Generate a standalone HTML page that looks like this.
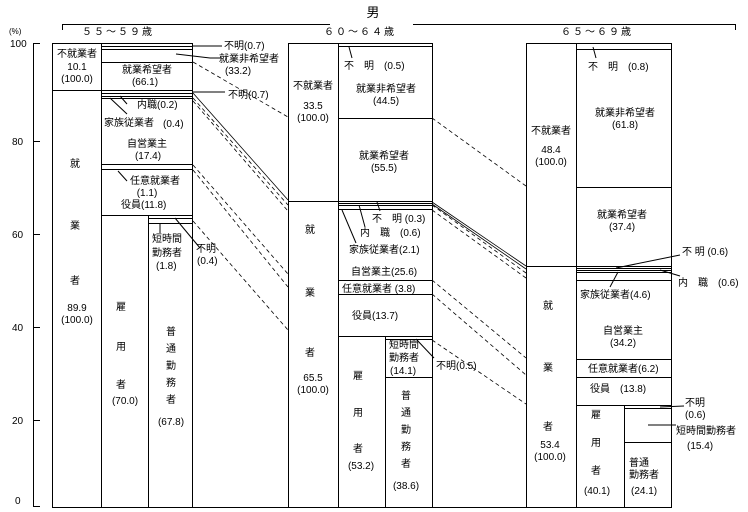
<!DOCTYPE html>
<html><head><meta charset="utf-8"><style>
html,body{margin:0;padding:0;background:#fff}
svg{display:block}
text{font-family:"Liberation Sans","Noto Sans CJK JP",sans-serif;font-size:10px;fill:#000}
.c{text-anchor:middle}
</style></head><body>
<svg width="748" height="512" viewBox="0 0 748 512" xmlns="http://www.w3.org/2000/svg">
<g stroke="#000" stroke-width="1" fill="none">
<polyline points="62.5,30 62.5,24.5 330,24.5"/>
<polyline points="413,24.5 735.5,24.5 735.5,30"/>
<line x1="33.5" y1="44" x2="33.5" y2="507"/>
<line x1="33" y1="43.5" x2="40" y2="43.5"/>
<line x1="33" y1="141.5" x2="40" y2="141.5"/>
<line x1="33" y1="234.5" x2="40" y2="234.5"/>
<line x1="33" y1="327.5" x2="40" y2="327.5"/>
<line x1="33" y1="420.5" x2="40" y2="420.5"/>
<line x1="33" y1="506.5" x2="40" y2="506.5"/>
<line x1="52" y1="507.5" x2="672" y2="507.5"/>
<!-- bar1 -->
<rect x="52.5" y="43.5" width="140" height="464"/>
<line x1="101.5" y1="43.5" x2="101.5" y2="507"/>
<line x1="52" y1="90.5" x2="193" y2="90.5"/>
<line x1="101" y1="46.5" x2="193" y2="46.5"/>
<line x1="101" y1="49.5" x2="193" y2="49.5"/>
<line x1="101" y1="62.5" x2="193" y2="62.5"/>
<line x1="101" y1="93.5" x2="193" y2="93.5"/>
<line x1="101" y1="96.5" x2="193" y2="96.5"/>
<line x1="101" y1="98.5" x2="193" y2="98.5"/>
<line x1="101" y1="164.5" x2="193" y2="164.5"/>
<line x1="101" y1="169.5" x2="193" y2="169.5"/>
<line x1="101" y1="215.5" x2="193" y2="215.5"/>
<line x1="148.5" y1="215" x2="148.5" y2="507"/>
<line x1="148" y1="218.5" x2="193" y2="218.5"/>
<line x1="148" y1="223.5" x2="193" y2="223.5"/>
<line x1="160" y1="224" x2="160" y2="233"/>
<!-- bar2 -->
<rect x="288.5" y="43.5" width="144" height="464"/>
<line x1="338.5" y1="43.5" x2="338.5" y2="507"/>
<line x1="338" y1="46.5" x2="432" y2="46.5"/>
<line x1="338" y1="118.5" x2="432" y2="118.5"/>
<line x1="288" y1="201.5" x2="432" y2="201.5"/>
<line x1="338" y1="203.5" x2="432" y2="203.5"/>
<line x1="338" y1="205.5" x2="432" y2="205.5"/>
<line x1="338" y1="209.5" x2="432" y2="209.5"/>
<line x1="338" y1="280.5" x2="432" y2="280.5"/>
<line x1="338" y1="294.5" x2="432" y2="294.5"/>
<line x1="338" y1="336.5" x2="432" y2="336.5"/>
<line x1="385.5" y1="336" x2="385.5" y2="507"/>
<line x1="385" y1="339.5" x2="432" y2="339.5"/>
<line x1="385" y1="377.5" x2="432" y2="377.5"/>
<!-- bar3 -->
<rect x="526.5" y="43.5" width="145" height="464"/>
<line x1="576.5" y1="43.5" x2="576.5" y2="507"/>
<line x1="576" y1="49.5" x2="672" y2="49.5"/>
<line x1="576" y1="187.5" x2="672" y2="187.5"/>
<line x1="526" y1="266.5" x2="672" y2="266.5"/>
<line x1="576" y1="268.5" x2="672" y2="268.5"/>
<line x1="576" y1="270.5" x2="672" y2="270.5"/>
<line x1="576" y1="272.5" x2="672" y2="272.5"/>
<line x1="576" y1="280.5" x2="672" y2="280.5"/>
<line x1="576" y1="359.5" x2="672" y2="359.5"/>
<line x1="576" y1="377.5" x2="672" y2="377.5"/>
<line x1="576" y1="405.5" x2="672" y2="405.5"/>
<line x1="624.5" y1="405" x2="624.5" y2="507"/>
<line x1="624" y1="408.5" x2="672" y2="408.5"/>
<line x1="624" y1="442.5" x2="672" y2="442.5"/>
<!-- leaders -->
<line x1="193" y1="46" x2="222" y2="46"/>
<polyline points="176,54 210,58 222,58"/>
<line x1="193" y1="92" x2="225" y2="92"/>
<line x1="110" y1="98" x2="127" y2="114"/>
<line x1="120" y1="96" x2="127" y2="104"/>
<line x1="118" y1="171" x2="127" y2="181"/>
<line x1="175" y1="218" x2="200" y2="248"/>
<line x1="349" y1="47" x2="352" y2="58"/>
<line x1="377" y1="202" x2="380" y2="211"/>
<line x1="359" y1="205" x2="365" y2="227"/>
<line x1="342" y1="210" x2="356" y2="243"/>
<line x1="416" y1="339" x2="434" y2="358"/>
<line x1="593" y1="47" x2="596" y2="58"/>
<line x1="616" y1="268" x2="680" y2="255"/>
<line x1="660" y1="270" x2="680" y2="276"/>
<line x1="618" y1="272" x2="610" y2="287"/>
<line x1="660" y1="407" x2="684" y2="406"/>
<line x1="648" y1="425" x2="676" y2="425"/>
</g>
<g stroke="#000" stroke-width="0.8" fill="none" stroke-dasharray="4,3">
<line x1="193" y1="62" x2="288" y2="117"/>
<line x1="193" y1="98" x2="288" y2="205"/>
<line x1="193" y1="101" x2="288" y2="211"/>
<line x1="193" y1="165" x2="288" y2="274"/>
<line x1="193" y1="170" x2="288" y2="287"/>
<line x1="193" y1="221" x2="288" y2="330"/>
<line x1="432" y1="118" x2="526" y2="186"/>
<line x1="432" y1="205" x2="526" y2="273"/>
<line x1="432" y1="210" x2="526" y2="278"/>
<line x1="432" y1="280" x2="526" y2="358"/>
<line x1="432" y1="294" x2="526" y2="375"/>
<line x1="432" y1="340" x2="526" y2="404"/>
</g>
<g stroke="#000" stroke-width="0.8" fill="none">
<line x1="193" y1="93" x2="288" y2="200"/>
<line x1="432" y1="202" x2="526" y2="266"/>
<line x1="432" y1="204" x2="526" y2="269"/>
</g>
<text x="373" y="17" class="c" style="font-size:13px">男</text>
<text x="118" y="35" class="c" style="letter-spacing:2px">５５～５９歳</text>
<text x="360" y="35" class="c" style="letter-spacing:2px">６０～６４歳</text>
<text x="597" y="35" class="c" style="letter-spacing:2px">６５～６９歳</text>
<text x="9" y="34" style="font-size:8px">(%)</text>
<text x="10" y="47">100</text><text x="12" y="145">80</text><text x="12" y="238">60</text>
<text x="12" y="331">40</text><text x="12" y="424">20</text><text x="15" y="504">0</text>
<text x="77" y="57" class="c">不就業者</text><text x="77" y="70" class="c">10.1</text><text x="77" y="82" class="c">(100.0)</text>
<text x="75" y="167" class="c">就</text><text x="75" y="229" class="c">業</text><text x="75" y="284" class="c">者</text>
<text x="77" y="311" class="c">89.9</text><text x="77" y="323" class="c">(100.0)</text>
<text x="224" y="49">不明(0.7)</text><text x="219" y="62">就業非希望者</text><text x="238" y="74" class="c">(33.2)</text>
<text x="147" y="73" class="c">就業希望者</text><text x="145" y="85" class="c">(66.1)</text>
<text x="228" y="98">不明(0.7)</text>
<text x="137" y="108">内職(0.2)</text><text x="104" y="126">家族従業者</text><text x="163" y="127">(0.4)</text>
<text x="147" y="147" class="c">自営業主</text><text x="148" y="159" class="c">(17.4)</text>
<text x="130" y="184">任意就業者</text><text x="147" y="196" class="c">(1.1)</text><text x="121" y="208">役員(11.8)</text>
<text x="152" y="242">短時間</text><text x="152" y="256">勤務者</text><text x="156" y="269">(1.8)</text>
<text x="196" y="252">不明</text><text x="197" y="264">(0.4)</text>
<text x="121" y="310" class="c">雇</text><text x="121" y="350" class="c">用</text><text x="121" y="388" class="c">者</text><text x="125" y="404" class="c">(70.0)</text>
<text x="171" y="335" class="c">普</text><text x="171" y="352" class="c">通</text><text x="171" y="369" class="c">勤</text><text x="171" y="386" class="c">務</text><text x="171" y="403" class="c">者</text><text x="171" y="425" class="c">(67.8)</text>
<text x="313" y="89" class="c">不就業者</text><text x="313" y="109" class="c">33.5</text><text x="313" y="121" class="c">(100.0)</text>
<text x="310" y="233" class="c">就</text><text x="310" y="296" class="c">業</text><text x="310" y="356" class="c">者</text>
<text x="313" y="381" class="c">65.5</text><text x="313" y="393" class="c">(100.0)</text>
<text x="344" y="69">不　明　(0.5)</text>
<text x="386" y="92" class="c">就業非希望者</text><text x="386" y="104" class="c">(44.5)</text>
<text x="384" y="159" class="c">就業希望者</text><text x="384" y="171" class="c">(55.5)</text>
<text x="372" y="222">不　明 (0.3)</text><text x="360" y="236">内　職　(0.6)</text>
<text x="349" y="253">家族従業者(2.1)</text><text x="351" y="275">自営業主(25.6)</text>
<text x="342" y="292">任意就業者 (3.8)</text><text x="352" y="319">役員(13.7)</text>
<text x="389" y="348">短時間</text><text x="389" y="361">勤務者</text><text x="390" y="374">(14.1)</text>
<text x="436" y="369">不明(0.5)</text>
<text x="358" y="379" class="c">雇</text><text x="358" y="416" class="c">用</text><text x="358" y="452" class="c">者</text><text x="361" y="469" class="c">(53.2)</text>
<text x="406" y="399" class="c">普</text><text x="406" y="416" class="c">通</text><text x="406" y="433" class="c">勤</text><text x="406" y="450" class="c">務</text><text x="406" y="467" class="c">者</text><text x="406" y="489" class="c">(38.6)</text>
<text x="551" y="134" class="c">不就業者</text><text x="551" y="153" class="c">48.4</text><text x="551" y="165" class="c">(100.0)</text>
<text x="548" y="309" class="c">就</text><text x="548" y="371" class="c">業</text><text x="548" y="430" class="c">者</text>
<text x="550" y="448" class="c">53.4</text><text x="550" y="460" class="c">(100.0)</text>
<text x="588" y="70">不　明　(0.8)</text>
<text x="625" y="116" class="c">就業非希望者</text><text x="625" y="128" class="c">(61.8)</text>
<text x="622" y="218" class="c">就業希望者</text><text x="622" y="230" class="c">(37.4)</text>
<text x="682" y="255">不 明 (0.6)</text><text x="678" y="286">内　職　(0.6)</text>
<text x="580" y="298">家族従業者(4.6)</text>
<text x="623" y="334" class="c">自営業主</text><text x="623" y="346" class="c">(34.2)</text>
<text x="588" y="372">任意就業者(6.2)</text><text x="590" y="392">役員　(13.8)</text>
<text x="685" y="406">不明</text><text x="685" y="418">(0.6)</text>
<text x="676" y="434">短時間勤務者</text><text x="687" y="449">(15.4)</text>
<text x="596" y="418" class="c">雇</text><text x="596" y="446" class="c">用</text><text x="596" y="474" class="c">者</text><text x="597" y="494" class="c">(40.1)</text>
<text x="629" y="466">普通</text><text x="629" y="478">勤務者</text><text x="631" y="494">(24.1)</text>
</svg>
</body></html>
